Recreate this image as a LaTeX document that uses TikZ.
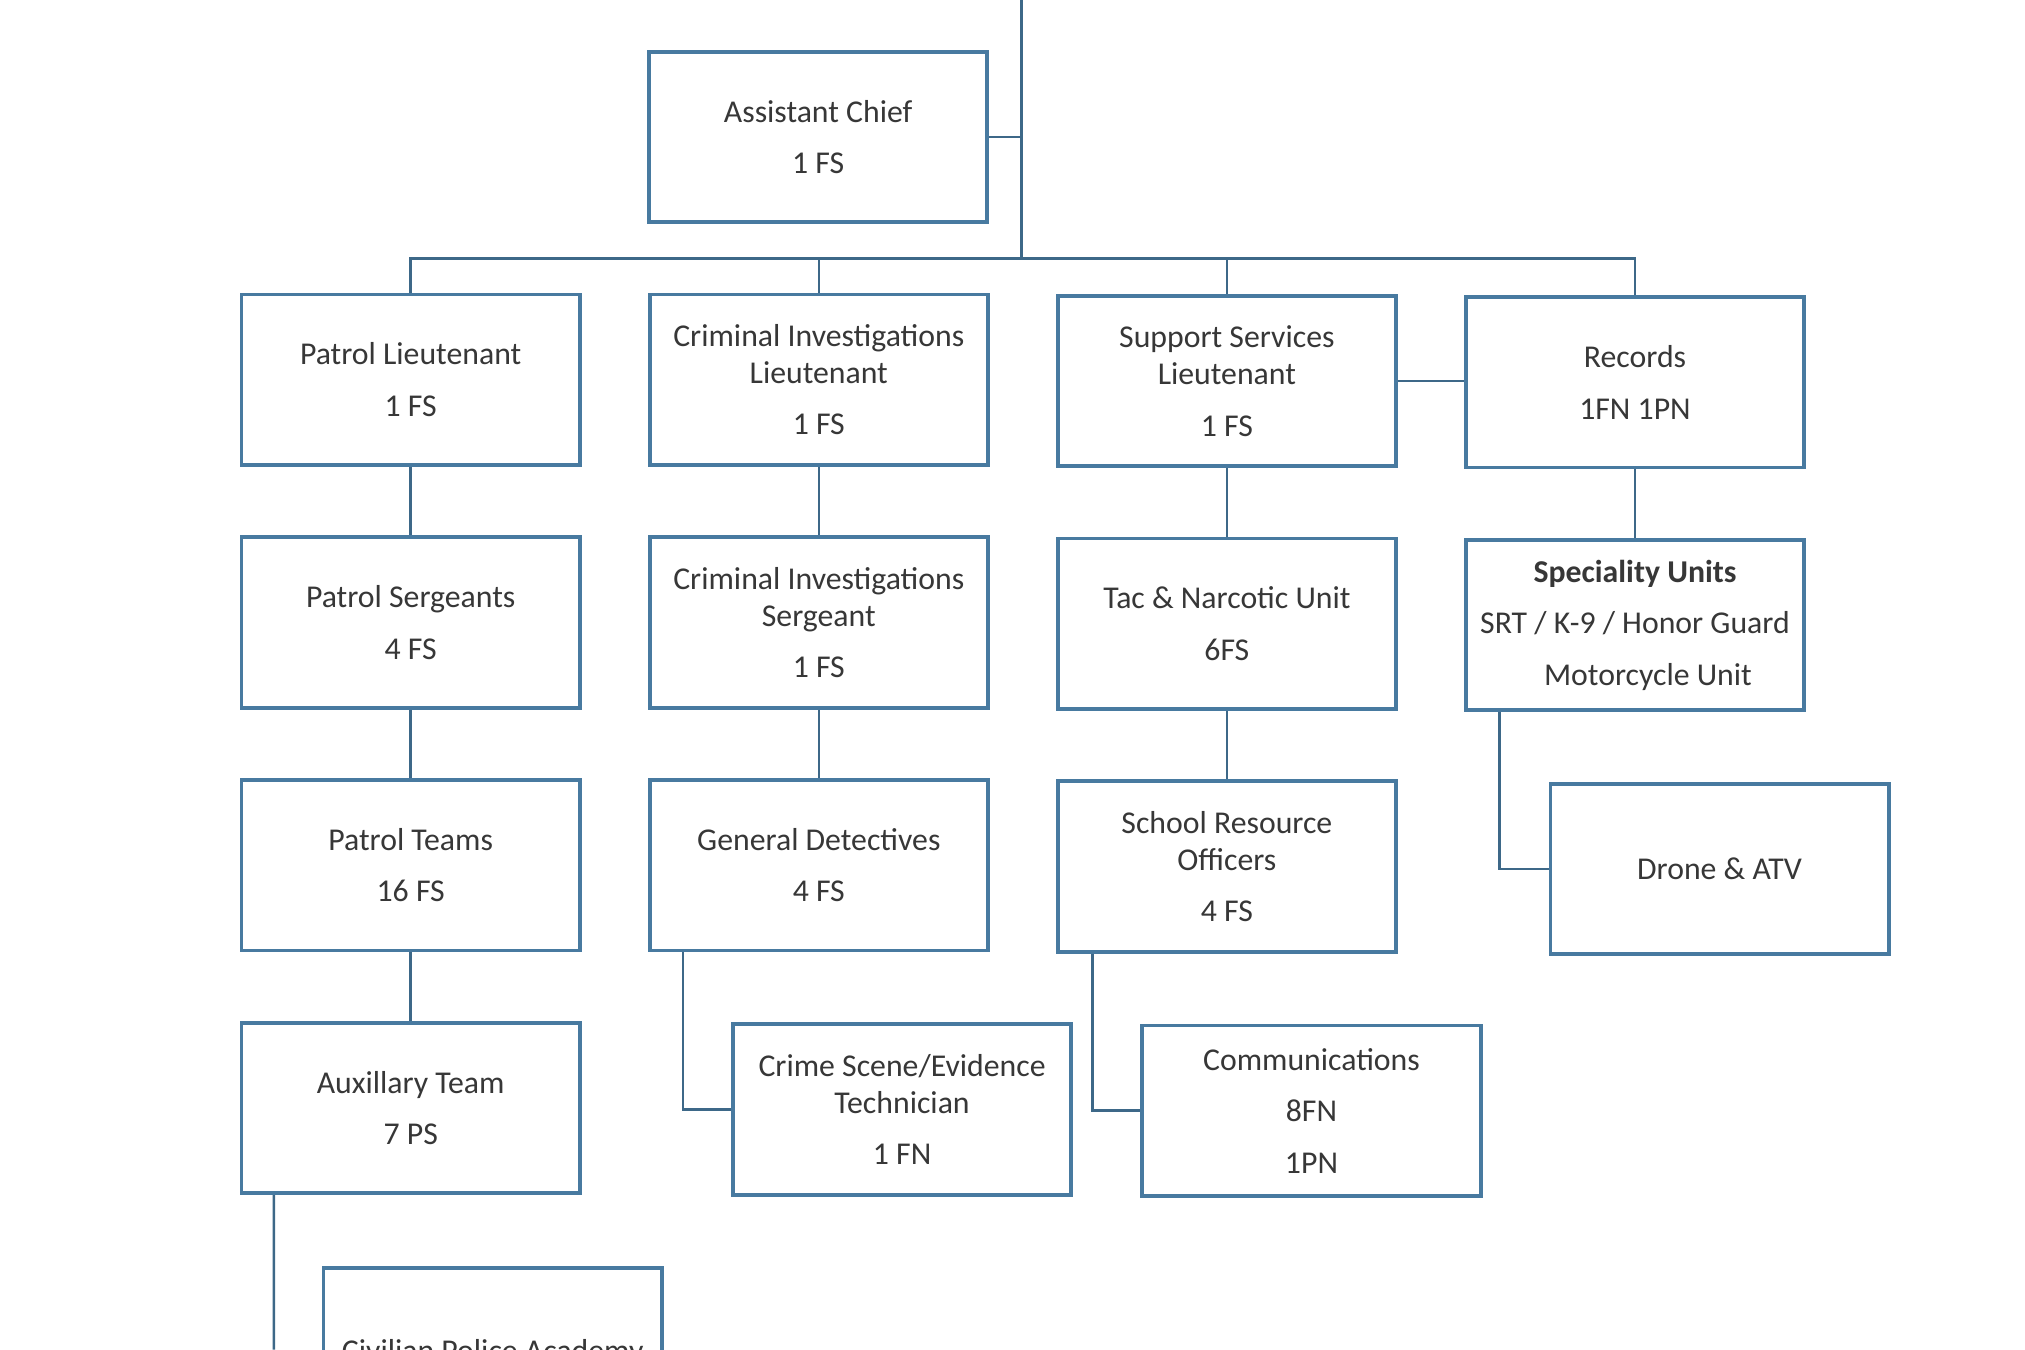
\documentclass[tikz,border=0pt]{standalone}
\usepackage{fontspec}
\setmainfont{Carlito}
\definecolor{bx}{RGB}{72,122,160}
\definecolor{tx}{RGB}{55,55,55}
\begin{document}
\begin{tikzpicture}[x=0.02cm,y=-0.02cm,
  box/.style={draw=bx,line width=1.7pt,fill=white,minimum width=5.24cm,minimum height=2.64cm,inner sep=0pt,
    align=center,text=tx,font=\fontsize{14}{16.4}\selectfont},
  ln/.style={draw=bx!85!black,line width=1.1pt}]
\useasboundingbox (0,0) rectangle (1568,1045);
\clip (0,0) rectangle (1568,1045);
\fill[white] (0,0) rectangle (1568,1045);
\coordinate (top) at (791,0);
\coordinate (bus) at (791,200);
\node[box] (ac) at (633.5,106) {Assistant Chief\\[6.3pt]1 FS};
\node[box] (pl) at (318,294) {Patrol Lieutenant\\[6.3pt]1 FS};
\node[box] (cil) at (634,294) {Criminal Investigations\\Lieutenant\\[6.3pt]1 FS};
\node[box] (ssl) at (950,295) {Support Services\\Lieutenant\\[6.3pt]1 FS};
\node[box] (rec) at (1266,296) {Records\\[6.3pt]1FN 1PN};
\node[box] (ps) at (318,482) {Patrol Sergeants\\[6.3pt]4 FS};
\node[box] (cis) at (634,482) {Criminal Investigations\\Sergeant\\[6.3pt]1 FS};
\node[box] (tac) at (950,483) {Tac \& Narcotic Unit\\[6.3pt]6FS};
\node[box] (spu) at (1266,484) {\textbf{Speciality Units}\\[6.3pt]SRT / K-9 / Honor Guard\\[6.3pt]\hspace*{0.4cm}Motorcycle Unit};
\node[box] (pt) at (318,670) {Patrol Teams\\[6.3pt]16 FS};
\node[box] (gd) at (634,670) {General Detectives\\[6.3pt]4 FS};
\node[box] (sro) at (950,671) {School Resource\\Officers\\[6.3pt]4 FS};
\node[box] (dr) at (1331.5,673) {Drone \& ATV};
\node[box] (aux) at (318,858) {Auxillary Team\\[6.3pt]7 PS};
\node[box] (cs) at (698.5,859) {Crime Scene/Evidence\\Technician\\[6.3pt]1 FN};
\node[box] (com) at (1015.5,860) {Communications\\[6.3pt]8FN\\[6.3pt]1PN};
\node[box,anchor=north] (cpa) at (381.5,980) {Civilian Police Academy};
\coordinate (bottom) at (212,1045);
\path[ln] (top) -- (bus);
\path[ln] (ac.east) -| (bus);
\path[ln] (pl.north) |- (bus) -| (rec.north);
\path[ln] (cil.north) -- (cil.north |- bus);
\path[ln] (ssl.north) -- (ssl.north |- bus);
\path[ln] (pl) -- (ps); \path[ln] (ps) -- (pt); \path[ln] (pt) -- (aux);
\path[ln] (cil) -- (cis); \path[ln] (cis) -- (gd);
\path[ln] (ssl) -- (tac); \path[ln] (tac) -- (sro);
\path[ln] (ssl.east) -- (ssl.east -| rec.west);
\path[ln] (rec) -- (spu);
\path[ln] ([xshift=-2.1cm]gd.south) |- (cs.west);
\path[ln] ([xshift=-2.08cm]sro.south) |- (com.west);
\path[ln] ([xshift=-2.1cm]spu.south) |- (dr.west);
\path[ln] ([xshift=-2.12cm]aux.south) -- (bottom);
\end{tikzpicture}
\end{document}
